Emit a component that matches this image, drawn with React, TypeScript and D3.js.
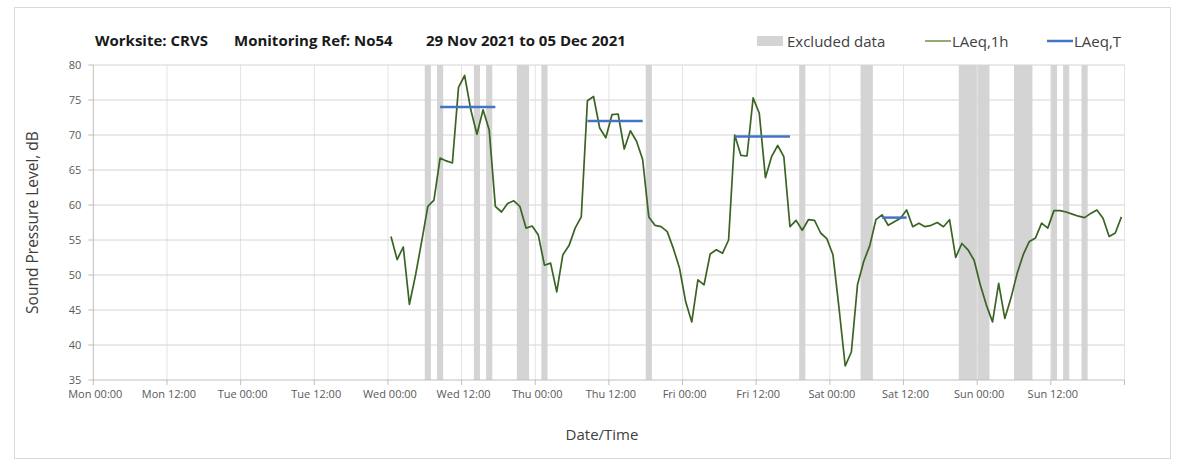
import React from "react";
import * as d3 from "d3";

// Hourly LAeq,1h values, first value at Wed 00:30 (48.5 h after Mon 00:00)
const seriesStartHour = 48.5;
const laeq1h: number[] = [
  55.5, 52.2, 54.0, 45.8, 50.0, 54.8, 59.8, 60.7, 66.7, 66.3,
  66.0, 76.8, 78.5, 73.6, 70.1, 73.6, 70.7, 59.8, 59.0, 60.2,
  60.6, 59.8, 56.7, 57.0, 55.7, 51.4, 51.7, 47.6, 52.9, 54.2,
  56.7, 58.3, 74.9, 75.5, 71.0, 69.6, 72.9, 73.0, 68.0, 70.6,
  69.1, 66.5, 58.3, 57.1, 56.9, 56.2, 53.8, 51.0, 46.2, 43.3,
  49.3, 48.6, 53.0, 53.6, 53.1, 55.0, 70.0, 67.1, 67.0, 75.3,
  73.1, 63.9, 66.9, 68.5, 66.9, 56.9, 57.8, 56.4, 57.9, 57.8,
  56.0, 55.2, 52.9, 45.2, 37.0, 39.0, 48.6, 51.9, 54.2, 57.9,
  58.6, 57.1, 57.6, 58.1, 59.3, 56.9, 57.4, 56.9, 57.1, 57.5,
  56.9, 57.9, 52.5, 54.5, 53.6, 52.1, 48.6, 45.7, 43.3, 48.8,
  43.8, 46.7, 50.2, 52.9, 54.8, 55.3, 57.4, 56.7, 59.2, 59.2,
  59.0, 58.7, 58.4, 58.2, 58.8, 59.3, 58.1, 55.5, 56.0, 58.3,
];

// LAeq,T periods (hours after Mon 00:00)
const laeqTStart = [56.5, 80.5, 104.5, 128.5];
const laeqTEnd = [65.5, 89.5, 113.5, 132.5];
const laeqTValue = [74.0, 72.0, 69.8, 58.2];

// Excluded data periods (hours after Mon 00:00)
const excludedStart = [54, 56, 62, 64, 69, 73, 90, 115, 125, 141, 144, 150, 156, 158, 161];
const excludedEnd = [55, 57, 63, 65, 71, 74, 91, 116, 127, 144, 146, 153, 157, 159, 162];

// Axis ticks
const xTickHours = [0, 12, 24, 36, 48, 60, 72, 84, 96, 108, 120, 132, 144, 156, 168];
const xTickLabels = [
  "Mon 00:00", "Mon 12:00", "Tue 00:00", "Tue 12:00", "Wed 00:00", "Wed 12:00",
  "Thu 00:00", "Thu 12:00", "Fri 00:00", "Fri 12:00", "Sat 00:00", "Sat 12:00",
  "Sun 00:00", "Sun 12:00", "",
];
const yTicks = [35, 40, 45, 50, 55, 60, 65, 70, 75, 80];

const W = 1179;
const H = 466;
const plotLeft = 93.3;
const plotRight = 1124.5;
const plotTop = 65;
const plotBottom = 380;
const FONT = "'Open Sans', 'Noto Sans', sans-serif";

export default function App() {
  const x = d3.scaleLinear().domain([0, 168]).range([plotLeft, plotRight]);
  const y = d3.scaleLinear().domain([35, 80]).range([plotBottom, plotTop]);

  const pts: [number, number][] = laeq1h.map((v, i) => [seriesStartHour + i, v]);
  const line = d3
    .line<[number, number]>()
    .x((d) => x(d[0]))
    .y((d) => y(d[1]));

  return (
    <svg
      width={W}
      height={H}
      viewBox={`0 0 ${W} ${H}`}
      style={{ position: "absolute", left: 0, top: 0, background: "#fff" }}
    >
      <rect x={0} y={0} width={W} height={H} fill="#fff" />
      <rect x={14.5} y={7.5} width={1156} height={451} fill="none" stroke="#d9d9d9" strokeWidth={1} />

      {/* excluded data bands */}
      {excludedStart.map((s, i) => (
        <rect
          key={"ex" + i}
          x={x(s)}
          y={plotTop}
          width={x(excludedEnd[i]) - x(s)}
          height={plotBottom - plotTop}
          fill="#d4d4d4"
        />
      ))}

      {/* vertical gridlines */}
      {xTickHours.slice(1).map((h) => (
        <line key={"vg" + h} x1={x(h)} x2={x(h)} y1={plotTop} y2={plotBottom} stroke="#e3e3e3" strokeWidth={1} />
      ))}
      {/* horizontal gridlines */}
      {yTicks.slice(1).map((v) => (
        <line key={"hg" + v} x1={plotLeft} x2={plotRight} y1={y(v)} y2={y(v)} stroke="#d4d4d4" strokeWidth={1} />
      ))}

      {/* axes */}
      <line x1={plotLeft} x2={plotLeft} y1={plotTop} y2={plotBottom} stroke="#bfbfbf" strokeWidth={1} />
      <line x1={plotLeft} x2={plotRight} y1={plotBottom} y2={plotBottom} stroke="#bfbfbf" strokeWidth={1} />
      {yTicks.map((v) => (
        <g key={"yt" + v}>
          <line x1={plotLeft - 5} x2={plotLeft} y1={y(v)} y2={y(v)} stroke="#bfbfbf" />
          <text
            x={plotLeft - 12}
            y={y(v)}
            dy="0.35em"
            textAnchor="end"
            fontFamily={FONT}
            fontSize={11}
            fill="#595959"
          >
            {v}
          </text>
        </g>
      ))}
      {xTickHours.map((h, i) => (
        <g key={"xt" + h}>
          <line x1={x(h)} x2={x(h)} y1={plotBottom} y2={plotBottom + 5} stroke="#bfbfbf" />
          <text
            x={x(h) + 2}
            y={plotBottom + 18}
            textAnchor="middle"
            fontFamily={FONT}
            fontSize={11}
            fill="#595959"
          >
            {xTickLabels[i]}
          </text>
        </g>
      ))}

      {/* LAeq,1h line */}
      <path d={line(pts) || ""} fill="none" stroke="#3a6423" strokeWidth={1.7} strokeLinejoin="round" />

      {/* LAeq,T segments */}
      {laeqTStart.map((s, i) => (
        <line
          key={"lt" + i}
          x1={x(s)}
          x2={x(laeqTEnd[i])}
          y1={y(laeqTValue[i])}
          y2={y(laeqTValue[i])}
          stroke="#4472c4"
          strokeWidth={2.5}
        />
      ))}

      {/* axis titles */}
      <text
        transform={`translate(38,${(plotTop + plotBottom) / 2}) rotate(-90)`}
        textAnchor="middle"
        fontFamily={FONT}
        fontSize={15.5}
        fill="#404040"
      >
        Sound Pressure Level, dB
      </text>
      <text x={602} y={440} textAnchor="middle" fontFamily={FONT} fontSize={15} fill="#404040">
        Date/Time
      </text>

      {/* title */}
      <g fontFamily={FONT} fontSize={15} fontWeight="bold" fill="#1a1a1a">
        <text x={95} y={46}>Worksite: CRVS</text>
        <text x={234} y={46}>Monitoring Ref: No54</text>
        <text x={426} y={46}>29 Nov 2021 to 05 Dec 2021</text>
      </g>

      {/* legend */}
      <g fontFamily={FONT} fontSize={15} fill="#404040">
        <rect x={757} y={36} width={26} height={10} fill="#d4d4d4" />
        <text x={787} y={47}>Excluded data</text>
        <line x1={925} x2={951} y1={41} y2={41} stroke="#6f9a4f" strokeWidth={1.6} />
        <text x={952} y={47}>LAeq,1h</text>
        <line x1={1047} x2={1073} y1={41} y2={41} stroke="#4472c4" strokeWidth={2.5} />
        <text x={1074} y={47}>LAeq,T</text>
      </g>
    </svg>
  );
}
